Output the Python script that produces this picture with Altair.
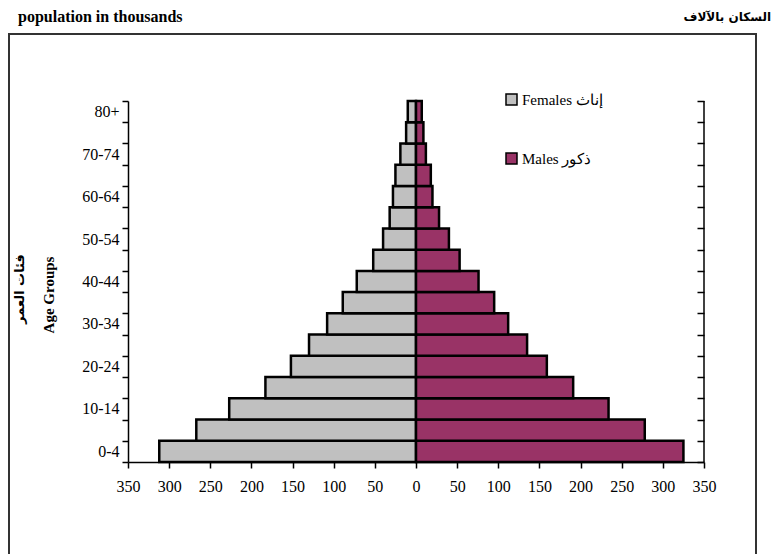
import altair as alt
import pandas as pd

ages = ["0-4", "5-9", "10-14", "15-19", "20-24", "25-29", "30-34", "35-39",
        "40-44", "45-49", "50-54", "55-59", "60-64", "65-69", "70-74", "75-79", "80+"]
females = [312, 267, 227, 183, 152, 130, 108, 89, 72, 52, 40, 32, 28, 25, 19, 12, 10]
males = [325, 278, 234, 191, 159, 135, 112, 95, 76, 53, 40, 28, 20, 18, 12, 9, 7]
series = ["Females إناث", "Males ذكور"]
colors = ["#C0C0C0", "#993366"]
x_ticks = [-350, -300, -250, -200, -150, -100, -50, 0, 50, 100, 150, 200, 250, 300, 350]
title_left = "population in thousands"
title_right = "السكان بالآلاف"
ytitle_en = "Age Groups"
ytitle_ar = "فئات العمر"

rows = []
for a, f, m in zip(ages, females, males):
    rows.append({"age": a, "sex": series[0], "value": -f})
    rows.append({"age": a, "sex": series[1], "value": m})
df = pd.DataFrame(rows)

W, H = 576, 361
SERIF = "Liberation Serif"
order = ages[::-1]
shown = ages[::2]
label_expr = "indexof([" + ",".join("'" + s + "'" for s in shown) + "], datum.value) >= 0 ? datum.label : ''"

xenc = alt.X("value:Q", scale=alt.Scale(domain=[-350, 350], nice=False, zero=False),
             axis=alt.Axis(values=x_ticks, labelExpr="abs(datum.value)", title=None, grid=False,
                           tickSize=6, tickWidth=1.5, domainWidth=1.5, domainColor="black",
                           tickColor="black", labelColor="black", labelFont=SERIF,
                           labelFontSize=16, labelPadding=10, labelFlush=False))
yscale = alt.Scale(paddingInner=0, paddingOuter=0)

bars = alt.Chart(df).mark_bar(stroke="black", strokeWidth=2.5).encode(
    x=xenc,
    y=alt.Y("age:N", sort=order, scale=yscale,
            axis=alt.Axis(title=None, tickBand="extent", labelExpr=label_expr, tickSize=6, grid=False,
                          tickWidth=1.5, domainWidth=1.5, domainColor="black", tickColor="black",
                          labelColor="black", labelFont=SERIF, labelFontSize=16, labelPadding=3)),
    color=alt.Color("sex:N", scale=alt.Scale(domain=series, range=colors),
                    legend=alt.Legend(orient="none", legendX=376, legendY=-9, title=None,
                                      symbolType="square", symbolSize=121, symbolStrokeColor="black",
                                      symbolStrokeWidth=1.5, labelFont=SERIF, labelFontSize=15,
                                      labelColor="black", rowPadding=42, labelOffset=3, padding=0,
                                      direction="vertical")),
)

right_axis = alt.Chart(df).mark_bar(opacity=0).encode(
    x=xenc,
    y=alt.Y("age:N", sort=order, scale=yscale,
            axis=alt.Axis(orient="right", title=None, labels=False, domain=False, tickBand="extent",
                          grid=False, tickSize=7, offset=-7, tickColor="black", tickWidth=1.5)),
)

one = pd.DataFrame({"k": [0]})
right_line = alt.Chart(one).mark_rule(color="black", strokeWidth=1.5).encode(
    x=alt.value(W), y=alt.value(0), y2=alt.value(H))

frame = alt.Chart(one).mark_rect(fillOpacity=0, stroke="#333333", strokeWidth=2).encode(
    x=alt.value(-119), x2=alt.value(628), y=alt.value(-67), y2=alt.value(470))

t1 = alt.Chart(pd.DataFrame({"t": [title_left]})).mark_text(
    align="left", baseline="middle", font=SERIF, fontSize=16, fontWeight="bold", color="black"
).encode(x=alt.value(-110), y=alt.value(-84), text="t:N")
t2 = alt.Chart(pd.DataFrame({"t": [title_right]})).mark_text(
    align="right", baseline="middle", font="DejaVu Sans", fontSize=12, fontWeight="bold", color="black"
).encode(x=alt.value(643), y=alt.value(-84), text="t:N")
t3 = alt.Chart(pd.DataFrame({"t": [ytitle_en]})).mark_text(
    align="center", baseline="middle", font=SERIF, fontSize=15, fontWeight="bold", color="black", angle=270
).encode(x=alt.value(-79), y=alt.value(194), text="t:N")
t4 = alt.Chart(pd.DataFrame({"t": [ytitle_ar]})).mark_text(
    align="center", baseline="middle", font="DejaVu Sans", fontSize=13, fontWeight="bold", color="black", angle=270
).encode(x=alt.value(-108), y=alt.value(188), text="t:N")

chart = alt.layer(frame, bars, right_axis, right_line, t1, t2, t3, t4).resolve_scale(
    y="independent"
).properties(
    width=W, height=H,
    autosize=alt.AutoSizeParams(type="none"),
    padding={"left": 120, "top": 93, "right": 69, "bottom": 92},
    background="white",
).configure_view(stroke=None)

chart.save("out.html", embed_options={"renderer": "svg", "actions": False})
